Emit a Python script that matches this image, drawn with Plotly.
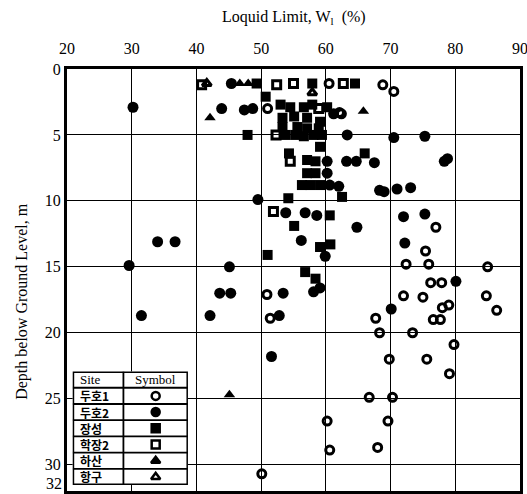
import plotly.graph_objects as go

# ---- data (Liquid limit %, depth m) ----
duho1_ll = [60.5, 68.8, 70.5, 62.1, 51.0, 62.4, 77.0, 75.4, 72.4, 75.9, 85.0, 76.2, 77.9, 72.0, 75.0,
            84.8, 78.0, 79.0, 86.4, 67.7, 76.6, 77.7, 68.3, 73.4, 79.8, 69.8, 75.6, 79.1, 66.7, 70.3,
            60.2, 69.6, 60.6, 68.0, 50.1, 50.9, 51.4]
duho1_d = [1.1, 1.2, 1.7, 3.3, 3.0, 3.4, 12.0, 13.8, 14.8, 14.8, 15.0, 16.2, 16.2, 17.2, 17.3,
           17.2, 18.1, 17.9, 18.3, 18.9, 19.0, 19.0, 20.0, 20.0, 20.9, 22.0, 22.0, 23.1, 24.9, 24.9,
           26.7, 26.7, 28.9, 28.7, 30.7, 17.1, 18.9]

duho2_ll = [30.2, 43.9, 45.4, 47.4, 48.7, 61.2, 63.3, 70.5, 75.3, 60.2, 63.2, 64.7, 67.5, 78.3, 78.8,
            60.2, 60.6, 62.0, 68.3, 69.0, 71.0, 73.1, 49.5, 53.8, 56.8, 58.6, 64.8, 72.0, 75.3, 56.2,
            72.2, 59.9, 34.0, 36.7, 29.6, 45.1, 58.1, 59.1, 43.6, 45.3, 53.4, 42.1, 52.8, 31.5, 70.1,
            80.1, 51.6]
duho2_d = [2.9, 3.0, 1.1, 3.1, 3.0, 3.4, 5.0, 5.2, 5.1, 7.0, 7.0, 7.0, 7.1, 7.0, 6.8,
           7.9, 8.8, 8.9, 9.2, 9.3, 9.1, 9.0, 9.9, 10.9, 10.9, 11.1, 12.0, 11.2, 11.0, 13.0,
           13.2, 14.2, 13.1, 13.1, 14.9, 15.0, 16.9, 16.6, 17.0, 17.0, 17.0, 18.7, 18.7, 18.7, 18.2,
           16.1, 21.8]

jangseong_ll = [49.3, 57.9, 64.5, 50.7, 53.0, 54.5, 56.6, 57.9, 60.2, 53.3, 55.1, 57.1, 59.1, 53.3,
                55.6, 57.1, 58.9, 47.9, 53.8, 55.3, 56.6, 58.1, 59.4, 59.1, 54.3, 57.1, 58.4, 66.0,
                57.1, 58.4, 56.3, 57.6, 59.1, 54.2, 62.5, 60.6, 55.1, 59.1, 60.7, 51.0, 56.8, 58.4]
jangseong_d = [1.1, 1.1, 1.1, 2.1, 2.7, 2.9, 2.9, 2.7, 2.9, 3.7, 3.6, 3.7, 4.0, 4.4,
               4.4, 4.5, 4.5, 5.0, 5.0, 5.0, 5.1, 5.0, 5.0, 5.9, 6.4, 6.9, 7.0, 6.4,
               7.9, 7.9, 8.8, 8.8, 8.8, 9.8, 9.7, 11.1, 11.9, 13.5, 13.3, 14.1, 15.4, 15.9]

hakjang2_ll = [40.8, 52.4, 55.0, 62.7, 58.9, 52.3, 54.5, 51.9]
hakjang2_d = [1.2, 1.2, 1.1, 1.1, 3.0, 5.0, 7.0, 10.8]

hasan_ll = [46.7, 48.0, 42.1, 65.8, 45.1]
hasan_d = [1.1, 1.1, 3.7, 3.2, 24.7]

hanggu_ll = [41.6, 57.9]
hanggu_d = [1.1, 1.8]

sites = ["두호1", "두호2", "장성", "학장2", "하산", "항구"]
symbols = ["circle-open", "circle", "square", "square-open", "triangle-up", "triangle-up-open"]
series = [(duho1_ll, duho1_d), (duho2_ll, duho2_d), (jangseong_ll, jangseong_d),
          (hakjang2_ll, hakjang2_d), (hasan_ll, hasan_d), (hanggu_ll, hanggu_d)]

x_ticks = [20, 30, 40, 50, 60, 70, 80, 90]
y_ticks = [0, 5, 10, 15, 20, 25, 30, 32]
y_ticktext = ["0", "5", "10", "15", "20", "25", "30", ""]
y_last_label = "32"

FONT = "Liberation Serif"

def marker_style(sym):
    if sym.endswith("open"):
        return dict(symbol=sym, size=8, color="black", line=dict(color="black", width=3))
    if sym == "circle":
        return dict(symbol=sym, size=11, color="black", line=dict(width=0))
    return dict(symbol=sym, size=10, color="black", line=dict(width=0))

fig = go.Figure()
for name, sym, (xs, ys) in zip(sites, symbols, series):
    fig.add_trace(go.Scatter(x=xs, y=ys, mode="markers", name=name,
                             marker=marker_style(sym), showlegend=False,
                             xaxis="x", yaxis="y", cliponaxis=False))

# legend table drawn in a small auxiliary axis
rows = list(range(len(sites)))
fig.add_trace(go.Scatter(x=[0.72] * len(sites), y=[r + 1.5 for r in rows], mode="markers",
                         marker=dict(symbol=[s for s in symbols], size=8, color="black",
                                     line=dict(color="black", width=2.5)),
                         xaxis="x2", yaxis="y2", showlegend=False, hoverinfo="skip",
                         cliponaxis=False))

shapes = [dict(type="rect", xref="x2", yref="y2", x0=0, x1=1, y0=0, y1=7,
               fillcolor="white", line=dict(color="black", width=3), layer="below")]
for r in range(1, 7):
    shapes.append(dict(type="line", xref="x2", yref="y2", x0=0, x1=1, y0=r, y1=r,
                       line=dict(color="black", width=1.8)))
shapes.append(dict(type="line", xref="x2", yref="y2", x0=0.44, x1=0.44, y0=0, y1=7,
                   line=dict(color="black", width=1.8)))

annotations = [
    dict(text="Site", xref="x2", yref="y2", x=0.05, y=0.5, xanchor="left", yanchor="middle",
         showarrow=False, font=dict(family=FONT, size=13, color="black")),
    dict(text="Symbol", xref="x2", yref="y2", x=0.72, y=0.5, xanchor="center", yanchor="middle",
         showarrow=False, font=dict(family=FONT, size=13, color="black")),
]
for r, s in zip(rows, sites):
    annotations.append(dict(text=s, xref="x2", yref="y2", x=0.05, y=r + 1.5, xanchor="left",
                            yanchor="middle", showarrow=False,
                            font=dict(family="Noto Sans CJK KR", size=12, color="black",
                                      weight="bold")))

annotations.append(dict(text="Loquid Limit, W<sub>l</sub>  (%)", xref="paper", yref="paper",
                        x=0.5, y=1.121, xanchor="center", yanchor="middle", showarrow=False,
                        font=dict(family=FONT, size=16, color="black")))
annotations.append(dict(text="Depth below Ground Level, m", xref="paper", yref="paper",
                        x=-0.10, y=0.45, xanchor="center", yanchor="middle", textangle=-90,
                        showarrow=False, font=dict(family=FONT, size=16, color="black")))
# bottom tick label, nudged up so it stays inside the page
annotations.append(dict(text=y_last_label, xref="paper", yref="paper", x=-0.006,
                        y=-0.006, xanchor="right", yanchor="bottom", showarrow=False,
                        font=dict(family=FONT, size=16, color="black")))

fig.update_layout(
    width=527, height=494,
    margin=dict(l=67, r=7, t=69, b=3),
    paper_bgcolor="white", plot_bgcolor="white",
    showlegend=False,
    xaxis=dict(range=[20, 90], side="top", tickvals=x_ticks, showgrid=True,
               gridcolor="black", gridwidth=1.2, showline=True, mirror=True,
               linecolor="black", linewidth=3, ticks="", zeroline=False,
               automargin=False, ticklabeloverflow="allow", ticklabelstandoff=6,
               tickfont=dict(family=FONT, size=16, color="black")),
    yaxis=dict(range=[32, 0], tickvals=y_ticks, ticktext=y_ticktext, showgrid=True,
               gridcolor="black", gridwidth=1.2, showline=True, mirror=True,
               linecolor="black", linewidth=3, ticks="", zeroline=False,
               automargin=False, ticklabeloverflow="allow",
               tickfont=dict(family=FONT, size=16, color="black")),
    xaxis2=dict(domain=[0.0126, 0.267], range=[0, 1], visible=False, anchor="y2"),
    yaxis2=dict(domain=[0.0142, 0.283], range=[7, 0], visible=False, anchor="x2"),
    shapes=shapes,
    annotations=annotations,
)

fig.write_html("out.html", config={"displayModeBar": False},
               post_script="document.body.style.margin='0';document.body.style.overflow='hidden';")
